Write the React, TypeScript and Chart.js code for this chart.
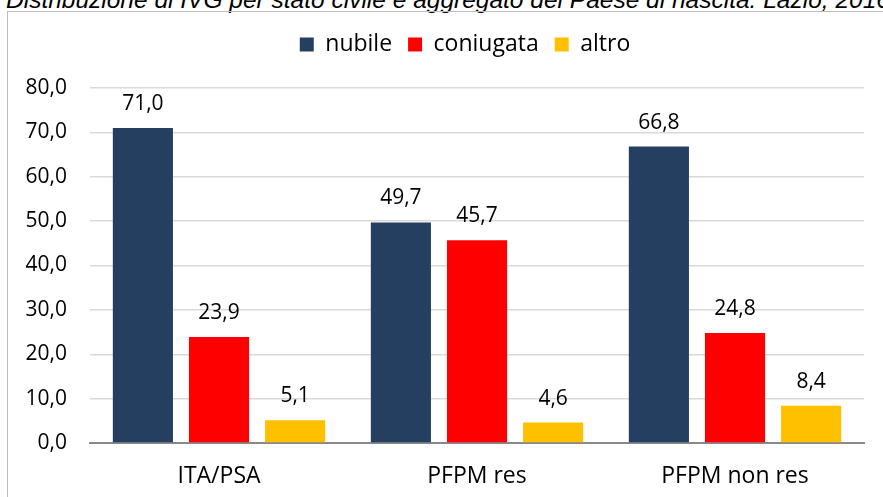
import React, { useEffect, useRef } from 'react';
import { Chart, registerables } from 'chart.js';

Chart.register(...registerables);

const titleText = 'Distribuzione di IVG per stato civile e aggregato del Paese di nascita. Lazio, 2016';
const categories = ['ITA/PSA', 'PFPM res', 'PFPM non res'];
const seriesNames = ['nubile', 'coniugata', 'altro'];
const nubile = [71.0, 49.7, 66.8];
const coniugata = [23.9, 45.7, 24.8];
const altro = [5.1, 4.6, 8.4];
const seriesColors = ['#243F60', '#FF0000', '#FFC000'];
const yMin = 0;
const yMax = 80;
const yStep = 10;

const FONT = "'Open Sans', 'Noto Sans', sans-serif";
const fmt = (v: number) => v.toFixed(1).replace('.', ',');

const dataLabels = {
  id: 'dataLabels',
  afterDatasetsDraw(chart: any) {
    const ctx = chart.ctx;
    ctx.save();
    ctx.font = `21px ${FONT}`;
    ctx.fillStyle = '#000000';
    ctx.textAlign = 'center';
    ctx.textBaseline = 'alphabetic';
    chart.data.datasets.forEach((ds: any, i: number) => {
      const meta = chart.getDatasetMeta(i);
      meta.data.forEach((el: any, j: number) => {
        const v = ds.data[j];
        ctx.fillText(fmt(v), el.x, el.y - 18);
      });
    });
    ctx.restore();
  },
};

const legendShift = {
  id: 'legendShift',
  afterLayout(chart: any) {
    const lg = chart.legend;
    if (lg) {
      lg.left += 33;
      lg.right += 33;
    }
  },
};

export default function App() {
  const ref = useRef<HTMLCanvasElement | null>(null);

  useEffect(() => {
    if (!ref.current) return;
    const seriesValues = [nubile, coniugata, altro];
    const chart = new Chart(ref.current, {
      type: 'bar',
      data: {
        labels: categories,
        datasets: seriesNames.map((name, i) => ({
          label: name,
          data: seriesValues[i],
          backgroundColor: seriesColors[i],
          borderWidth: 0,
          categoryPercentage: 0.885,
          barPercentage: 0.79,
        })),
      },
      options: {
        responsive: false,
        animation: false,
        layout: { padding: { left: 0, right: 19, top: 17, bottom: 0 } },
        plugins: {
          legend: {
            display: true,
            position: 'top',
            labels: {
              boxWidth: 14,
              boxHeight: 14,
              padding: 16,
              color: '#000000',
              font: { family: FONT, size: 23 },
            },
          },
          title: {
            display: true,
            text: '',
            position: 'top',
            weight: 500,
            font: { size: 0 },
            padding: { top: 0, bottom: 22 },
          },
          tooltip: { enabled: false },
        },
        scales: {
          x: {
            grid: { display: false, drawTicks: false },
            border: { display: true, color: '#898989', width: 2 },
            ticks: {
              padding: 20,
              color: '#000000',
              font: { family: FONT, size: 23 },
            },
            afterFit(scale: any) {
              scale.height = 54;
            },
          },
          y: {
            min: yMin,
            max: yMax,
            grid: { color: '#d9d9d9', lineWidth: 1.5, drawTicks: false },
            border: { display: false },
            ticks: {
              stepSize: yStep,
              padding: 23,
              color: '#000000',
              font: { family: FONT, size: 21 },
              callback: (v: any) => fmt(Number(v)),
            },
            afterFit(scale: any) {
              scale.width = 90;
            },
          },
        },
      },
      plugins: [dataLabels, legendShift],
    });
    return () => chart.destroy();
  }, []);

  return (
    <div
      style={{
        position: 'fixed',
        left: 0,
        top: 0,
        width: 883,
        height: 497,
        overflow: 'hidden',
        background: '#ffffff',
      }}
    >
      <div
        style={{
          position: 'absolute',
          left: 6,
          top: -13,
          whiteSpace: 'nowrap',
          fontFamily: "'Liberation Sans', Arial, sans-serif",
          fontStyle: 'italic',
          fontSize: 24.5,
          lineHeight: '26px',
          color: '#000000',
        }}
      >
        {titleText}
      </div>
      <div
        style={{
          position: 'absolute',
          left: 7,
          top: 11,
          width: 920,
          height: 540,
          border: '1px solid #bdbdbd',
          boxSizing: 'border-box',
        }}
      />
      <canvas
        ref={ref}
        width={883}
        height={497}
        style={{ position: 'absolute', left: 0, top: 0, width: 883, height: 497 }}
      />
    </div>
  );
}
